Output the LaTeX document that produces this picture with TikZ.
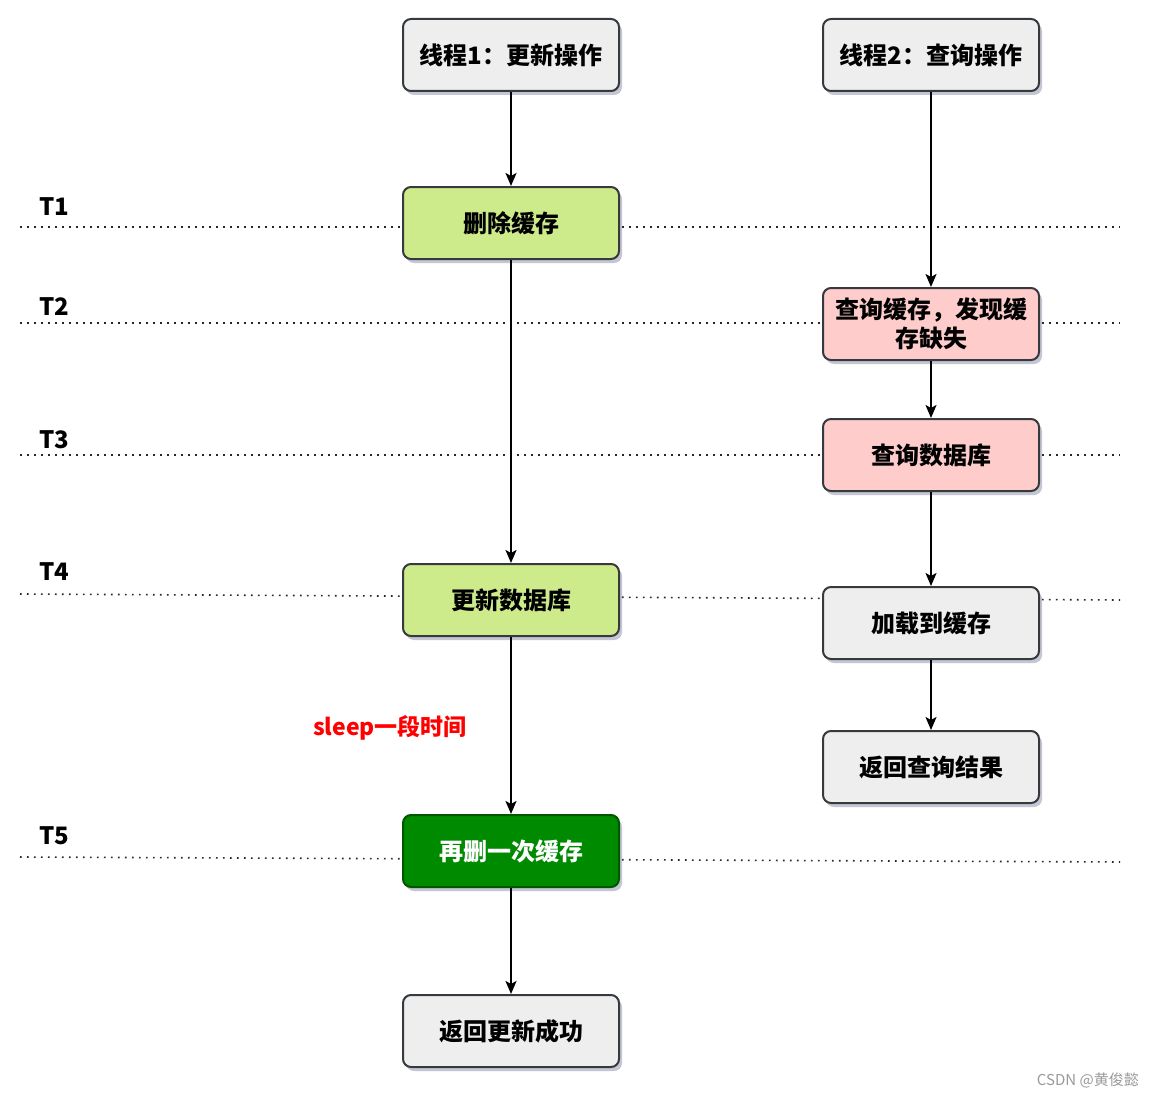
\documentclass[tikz,border=0pt]{standalone}
\usepackage{fontspec}
\newfontfamily\cjk{Noto Sans CJK SC}
\usetikzlibrary{arrows.meta,shadows}
\definecolor{boxline}{HTML}{36393D}
\definecolor{grayfill}{HTML}{EEEEEE}
\definecolor{greenfill}{HTML}{CDEB8B}
\definecolor{pinkfill}{HTML}{FFCCCC}
\definecolor{darkgreen}{HTML}{008A00}
\definecolor{darkgreenline}{HTML}{005700}
\definecolor{shadowc}{HTML}{8A8FA8}
\definecolor{wm}{HTML}{9A9A9A}
\begin{document}
\begin{tikzpicture}[x=1pt,y=-1pt,
  box/.style={draw=boxline, line width=2pt, rounded corners=8pt,
    minimum width=216pt, minimum height=72pt, align=center,
    font=\cjk\bfseries\fontsize{24}{29}\selectfont, text=black, inner sep=2pt,
    drop shadow={shadow xshift=3pt, shadow yshift=-4pt, fill=shadowc, opacity=0.5}},
  grayb/.style={box, fill=grayfill},
  greenb/.style={box, fill=greenfill},
  pinkb/.style={box, fill=pinkfill},
  dgreenb/.style={box, fill=darkgreen, draw=darkgreenline, text=white},
  flow/.style={draw=black, line width=2pt, -{Stealth[length=13pt,width=11pt,inset=3pt]}},
  guide/.style={draw=black!85, line width=1.6pt, dash pattern=on 1.6pt off 5.4pt},
  tlabel/.style={font=\cjk\bfseries\fontsize{24}{28}\selectfont, text=black, inner sep=0pt},
]
\useasboundingbox (0,0) rectangle (1154,1097);
\fill[white] (0,0) rectangle (1154,1097);

% guide lines (time rows)
\draw[guide] (20,227) -- (1120,227);
\draw[guide] (20,323) -- (1120,323);
\draw[guide] (20,455) -- (1120,455);
\draw[guide] (20,594) -- (1120,600);
\draw[guide] (20,857) -- (1120,862);

\node[tlabel] (t1) at (54,207) {T1};
\node[tlabel] (t2) at (54,307) {T2};
\node[tlabel] (t3) at (54,440) {T3};
\node[tlabel] (t4) at (54,572) {T4};
\node[tlabel] (t5) at (54,836) {T5};

% thread 1
\node[grayb]   (a0) at (511,55)   {线程1：更新操作};
\node[greenb]  (a1) at (511,223)  {删除缓存};
\node[greenb]  (a2) at (511,600)  {更新数据库};
\node[dgreenb] (a3) at (511,851)  {再删一次缓存};
\node[grayb]   (a4) at (511,1031) {返回更新成功};

% thread 2
\node[grayb]  (b0) at (931,55)  {线程2：查询操作};
\node[pinkb]  (b1) at (931,324) {查询缓存，发现缓\\存缺失};
\node[pinkb]  (b2) at (931,455) {查询数据库};
\node[grayb]  (b3) at (931,623) {加载到缓存};
\node[grayb]  (b4) at (931,767) {返回查询结果};

\node[font=\cjk\bfseries\fontsize{23}{27}\selectfont, text=red, inner sep=0pt] (sl) at (390,728) {sleep一段时间};

\draw[flow] (a0) -- (a1);
\draw[flow] (a1) -- (a2);
\draw[flow] (a2) -- (a3);
\draw[flow] (a3) -- (a4);
\draw[flow] (b0) -- (b1);
\draw[flow] (b1) -- (b2);
\draw[flow] (b2) -- (b3);
\draw[flow] (b3) -- (b4);

\node[font=\cjk\fontsize{15}{18}\selectfont, text=wm, anchor=east, inner sep=0pt] (wmk) at (1139,1080) {CSDN @黄俊懿};
\end{tikzpicture}
\end{document}
